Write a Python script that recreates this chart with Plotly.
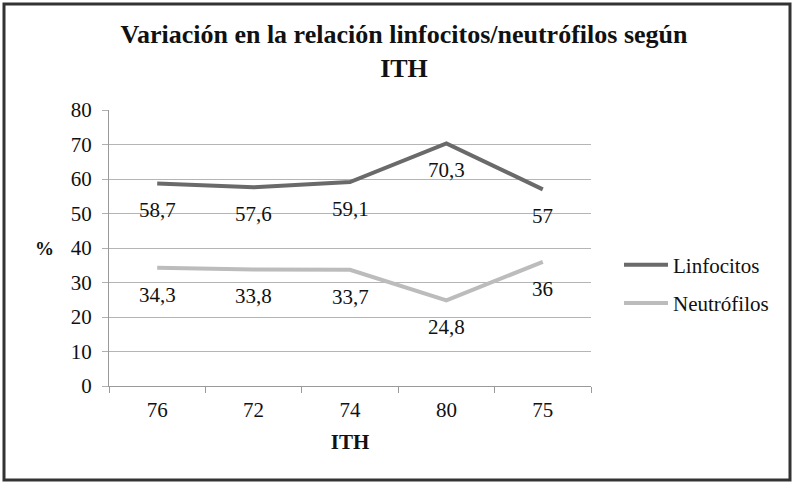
import plotly.graph_objects as go

categories = ["76", "72", "74", "80", "75"]
linfocitos = [58.7, 57.6, 59.1, 70.3, 57.0]
neutrofilos = [34.3, 33.8, 33.7, 24.8, 36.0]
y_ticks = [0, 10, 20, 30, 40, 50, 60, 70, 80]

FONT = "Liberation Serif, Times New Roman, serif"
W, H = 794, 483
L, R, T, B = 109, 203, 110, 97
pw, ph = W - L - R, H - T - B

def px_x(p):
    return (p - L) / pw

def px_y(p):
    return (H - B - p) / ph

def fmt(v):
    s = ("%.1f" % v).rstrip("0").rstrip(".")
    return s.replace(".", ",")

fig = go.Figure()
fig.add_trace(go.Scatter(x=categories, y=linfocitos, mode="lines", name="Linfocitos",
                         legendgroup="a", line=dict(color="#6a6a6a", width=4)))
fig.add_trace(go.Scatter(x=categories, y=neutrofilos, mode="lines", name="Neutrófilos",
                         legendgroup="b", line=dict(color="#bcbcbc", width=4)))

for series in (linfocitos, neutrofilos):
    for i, v in enumerate(series):
        fig.add_annotation(x=i, y=v, text=fmt(v), showarrow=False, yshift=-27,
                           font=dict(family=FONT, size=21, color="#111"))

fig.add_annotation(xref="paper", yref="paper", x=px_x(44), y=px_y(248), text="<b>%</b>",
                   showarrow=False, xanchor="center",
                   font=dict(family=FONT, size=19, color="#111"))

fig.add_shape(type="rect", xref="paper", yref="paper",
              x0=px_x(4), x1=px_x(790), y0=px_y(480), y1=px_y(4),
              line=dict(color="#333", width=3), layer="above")

fig.update_layout(
    width=W, height=H,
    margin=dict(l=L, r=R, t=T, b=B, autoexpand=False),
    paper_bgcolor="white", plot_bgcolor="white",
    font=dict(family=FONT, size=21, color="#111"),
    title=dict(text="<b>Variación en la relación linfocitos/neutrófilos según<br>ITH</b>",
               x=404 / W, xanchor="center", y=1 - 43 / H, yanchor="top", yref="container",
               font=dict(family=FONT, size=26, color="#111")),
    showlegend=True,
    legend=dict(x=px_x(619), xanchor="left", y=px_y(284), yanchor="middle",
                itemwidth=44, tracegroupgap=8,
                font=dict(family=FONT, size=21, color="#111"), bgcolor="rgba(0,0,0,0)"),
    xaxis=dict(type="category", range=[-0.5, 4.5], tickson="boundaries", ticks="outside",
               ticklen=6, tickcolor="#9a9a9a", showline=True, linecolor="#9a9a9a",
               showgrid=False, tickangle=0, ticklabelstandoff=5,
               tickfont=dict(family=FONT, size=21), fixedrange=True,
               title=dict(text="<b>ITH</b>", standoff=13, font=dict(family=FONT, size=21))),
    yaxis=dict(range=[0, 80], tickvals=y_ticks, ticks="outside", ticklen=6,
               tickcolor="#b0b0b0", showline=True, linecolor="#9a9a9a",
               gridcolor="#b5b5b5", gridwidth=1, zeroline=False, ticklabelstandoff=6,
               tickfont=dict(family=FONT, size=21), fixedrange=True),
)

fig.write_html("out.html", config={"displayModeBar": False},
               post_script="document.body.style.margin='0';")
